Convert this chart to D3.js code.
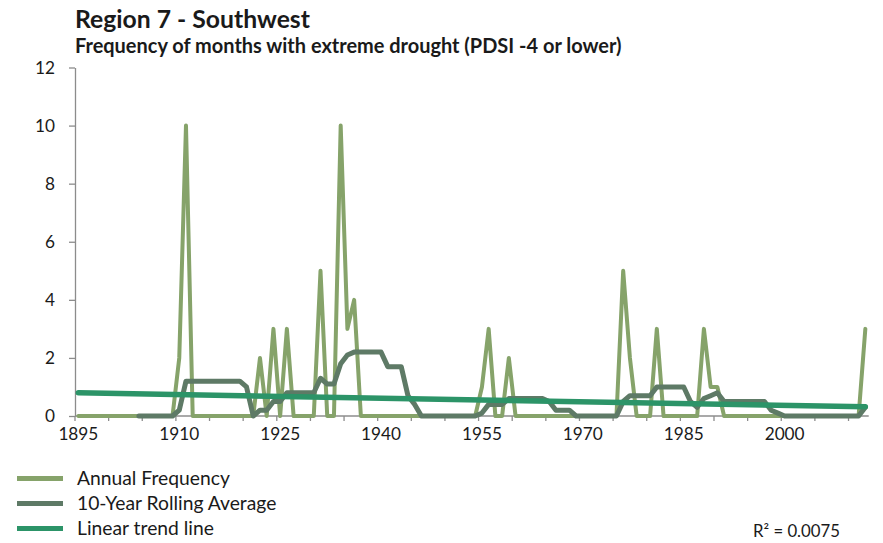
<!DOCTYPE html>
<html>
<head>
<meta charset="utf-8">
<script src="https://cdn.jsdelivr.net/npm/d3@7"></script>
<style>
  html, body { margin: 0; padding: 0; background: #ffffff; }
  svg { display: block; font-family: Lato, "Open Sans", sans-serif; }
</style>
</head>
<body>
<svg id="chart" width="883" height="543"></svg>
<script>
// ---------- DATA ----------
const years = d3.range(1895, 2013);

// Annual frequency of months with PDSI <= -4 (1895 … 2012)
const annualFrequency = [
  0,0,0,0,0,                 // 1895-1899
  0,0,0,0,0,0,0,0,0,0,       // 1900-1909
  2,10,0,0,0,0,0,0,0,0,      // 1910-1919
  0,0,2,0,3,0,3,0,0,0,       // 1920-1929
  0,5,0,0,10,3,4,0,0,0,      // 1930-1939
  0,0,0,0,0,0,0,0,0,0,       // 1940-1949
  0,0,0,0,0,1,3,0,0,2,       // 1950-1959
  0,0,0,0,0,0,0,0,0,0,       // 1960-1969
  0,0,0,0,0,0,5,2,0,0,       // 1970-1979
  0,3,0,0,0,0,0,0,3,1,       // 1980-1989
  1,0,0,0,0,0,0,0,0,0,       // 1990-1999
  0,0,0,0,0,0,0,0,0,0,       // 2000-2009
  0,0,3                      // 2010-2012
];

// 10-year rolling average (null where not available)
const rollingAverage = [
  null,null,null,null,null,                          // 1895-1899
  null,null,null,null,0,0,0,0,0,0,                   // 1900-1909
  0.2,1.2,1.2,1.2,1.2,1.2,1.2,1.2,1.2,1.2,           // 1910-1919
  1.0,0,0.2,0.2,0.5,0.5,0.8,0.8,0.8,0.8,             // 1920-1929
  0.8,1.3,1.1,1.1,1.8,2.1,2.2,2.2,2.2,2.2,           // 1930-1939
  2.2,1.7,1.7,1.7,0.7,0.4,0,0,0,0,                   // 1940-1949
  0,0,0,0,0,0.1,0.4,0.4,0.4,0.6,                     // 1950-1959
  0.6,0.6,0.6,0.6,0.6,0.5,0.2,0.2,0.2,0,             // 1960-1969
  0,0,0,0,0,0,0.5,0.7,0.7,0.7,                       // 1970-1979
  0.7,1.0,1.0,1.0,1.0,1.0,0.5,0.3,0.6,0.7,           // 1980-1989
  0.8,0.5,0.5,0.5,0.5,0.5,0.5,0.5,0.2,0.1,           // 1990-1999
  0,0,0,0,0,0,0,0,0,0,                               // 2000-2009
  0,0,0.3                                            // 2010-2012
];

// Linear trend line end points
const trendYears = [1895, 2012];
const trendValues = [0.80, 0.32];

const yTickValues = [0, 2, 4, 6, 8, 10, 12];
const xLabelYears = [1895, 1910, 1925, 1940, 1955, 1970, 1985, 2000];

const titleText = "Region 7 - Southwest";
const subtitleText = "Frequency of months with extreme drought (PDSI -4 or lower)";
const seriesNames = ["Annual Frequency", "10-Year Rolling Average", "Linear trend line"];
const rSquaredText = "R\u00B2 = 0.0075";

// ---------- STYLE ----------
const colors = { annual: "#86a36a", rolling: "#5e7a66", trend: "#2c9468" };
const axisColor = "#8c8c8c";
const textColor = "#1a1a1a";

const plot = { left: 75, right: 868.7, top: 67.5, bottom: 416 };

const svg = d3.select("#chart");

// fit font size so that text has given width
function fitFont(sel, target, base) {
  sel.style("font-size", base + "px");
  const w = sel.node().getComputedTextLength();
  const fs = base * target / w;
  sel.style("font-size", fs + "px");
  return fs;
}
function measure(str, weight, size) {
  const t = svg.append("text").style("font-weight", weight).style("font-size", size + "px").text(str);
  const w = t.node().getComputedTextLength();
  t.remove();
  return w;
}

// ---------- SCALES ----------
const x = d3.scaleBand().domain(years).range([plot.left, plot.right]).padding(0);
const xc = yr => x(yr) + x.bandwidth() / 2;
const y = d3.scaleLinear().domain([0, 12]).range([plot.bottom, plot.top]);

// ---------- TITLES ----------
const title = svg.append("text")
  .attr("x", 75).attr("y", 28)
  .style("font-weight", "bold").attr("fill", textColor)
  .text(titleText);
fitFont(title, 235, 21);

const subtitle = svg.append("text")
  .attr("x", 75).attr("y", 52.5)
  .style("font-weight", "bold").attr("fill", textColor)
  .text(subtitleText);
fitFont(subtitle, 547, 16);

// ---------- AXES ----------
const tickFont = 17.5 * 40 / measure("1895", "normal", 17.5);

// Y axis
const yAxis = d3.axisLeft(y).tickValues(yTickValues).tickSize(6).tickPadding(14).tickSizeOuter(0);
const gy = svg.append("g").attr("transform", `translate(${plot.left},0)`).call(yAxis);
gy.select(".domain").attr("stroke", axisColor).attr("stroke-width", 1.3);
gy.selectAll(".tick line").attr("stroke", axisColor).attr("stroke-width", 1.3);
gy.selectAll(".tick text").attr("fill", textColor).style("font-size", tickFont + "px")
  .style("font-family", "Lato, sans-serif");

// X axis: domain line + ticks every 5 categories at category boundaries
const gx = svg.append("g");
gx.append("line")
  .attr("x1", plot.left).attr("x2", plot.right)
  .attr("y1", plot.bottom).attr("y2", plot.bottom)
  .attr("stroke", axisColor).attr("stroke-width", 1.3);
const tickYears = years.filter((yr, i) => i % 5 === 0);
gx.selectAll("line.xt").data(tickYears).join("line").attr("class", "xt")
  .attr("x1", d => x(d)).attr("x2", d => x(d))
  .attr("y1", plot.bottom).attr("y2", plot.bottom + 5)
  .attr("stroke", axisColor).attr("stroke-width", 1.3);
gx.selectAll("text.xl").data(xLabelYears).join("text").attr("class", "xl")
  .attr("x", d => xc(d)).attr("y", 440)
  .attr("text-anchor", "middle").attr("fill", textColor)
  .style("font-size", tickFont + "px")
  .text(d => d);

// ---------- LINES ----------
const annualData = years.map((yr, i) => ({ yr, v: annualFrequency[i] }));
const rollingData = years.map((yr, i) => ({ yr, v: rollingAverage[i] }));
const trendData = trendYears.map((yr, i) => ({ yr, v: trendValues[i] }));

const line = d3.line().defined(d => d.v !== null).x(d => xc(d.yr)).y(d => y(d.v));

svg.append("path").datum(annualData)
  .attr("d", line).attr("fill", "none")
  .attr("stroke", colors.annual).attr("stroke-width", 4)
  .attr("stroke-linejoin", "round").attr("stroke-linecap", "round");

svg.append("path").datum(rollingData)
  .attr("d", line).attr("fill", "none")
  .attr("stroke", colors.rolling).attr("stroke-width", 5)
  .attr("stroke-linejoin", "round").attr("stroke-linecap", "round");

svg.append("path").datum(trendData)
  .attr("d", line).attr("fill", "none")
  .attr("stroke", colors.trend).attr("stroke-width", 5.5)
  .attr("stroke-linecap", "round");

// ---------- LEGEND ----------
const legendColors = [colors.annual, colors.rolling, colors.trend];
const legendY = [478.5, 503.5, 528.5];
const legendFont = 18 * 153 / measure(seriesNames[0], "normal", 18);
const lg = svg.append("g");
seriesNames.forEach((name, i) => {
  lg.append("line")
    .attr("x1", 17).attr("x2", 63)
    .attr("y1", legendY[i]).attr("y2", legendY[i])
    .attr("stroke", legendColors[i]).attr("stroke-width", 5);
  lg.append("text")
    .attr("x", 77).attr("y", legendY[i])
    .attr("dy", "0.35em").attr("fill", textColor)
    .style("font-size", legendFont + "px")
    .text(name);
});

const r2 = svg.append("text")
  .attr("x", 753).attr("y", 531.5).attr("dy", "0.35em")
  .attr("fill", textColor)
  .text(rSquaredText);
fitFont(r2, 87, 15);
</script>
</body>
</html>
